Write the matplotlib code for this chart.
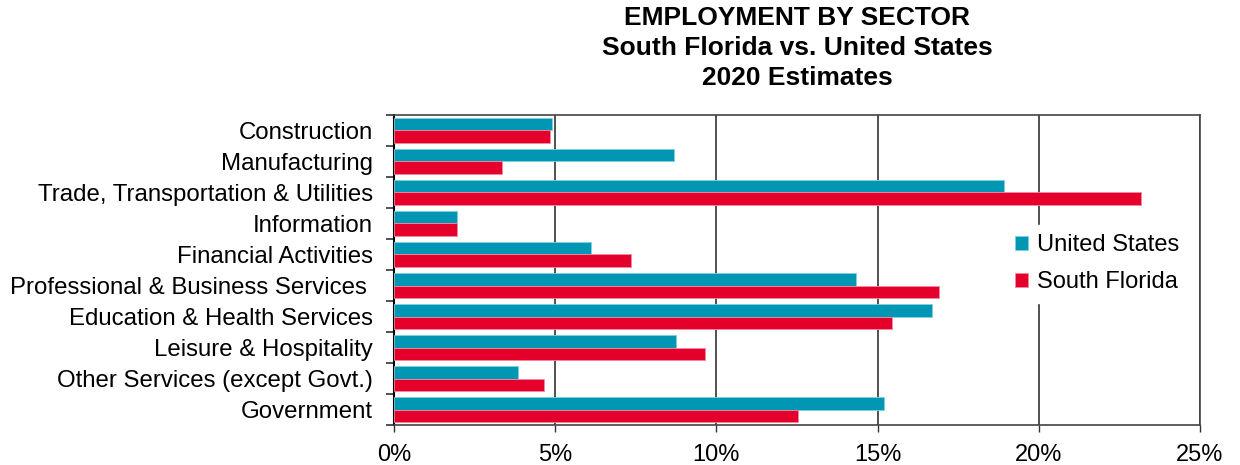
import matplotlib
matplotlib.use("Agg")
import matplotlib.pyplot as plt
import numpy as np

plt.rcParams['font.family'] = ['Liberation Sans', 'DejaVu Sans']

categories = ["Construction", "Manufacturing", "Trade, Transportation & Utilities",
              "Information", "Financial Activities", "Professional & Business Services ",
              "Education & Health Services", "Leisure & Hospitality",
              "Other Services (except Govt.)", "Government"]
us_values = [4.89, 8.70, 18.91, 1.95, 6.12, 14.32, 16.68, 8.74, 3.85, 15.19]
sf_values = [4.85, 3.36, 23.17, 1.95, 7.36, 16.91, 15.44, 9.65, 4.64, 12.54]
x_ticks = [0, 5, 10, 15, 20, 25]
x_tick_labels = ["0%", "5%", "10%", "15%", "20%", "25%"]
title_lines = ["EMPLOYMENT BY SECTOR", "South Florida vs. United States", "2020 Estimates"]

us_color = "#0096B4"
sf_color = "#E4002B"

fig = plt.figure(figsize=(12.4, 4.65), dpi=100)
ax = fig.add_axes([394/1240, 1 - 425/465, (1200-394)/1240, (425-115)/465])

n = len(categories)
pos = np.arange(n)
h = 0.41
ax.barh(pos - h/2, us_values, height=h, color=us_color, edgecolor="#7fd0e0", linewidth=0.6,
        label="United States", zorder=3)
ax.barh(pos + h/2, sf_values, height=h, color=sf_color, edgecolor="#f08aa0", linewidth=0.6,
        label="South Florida", zorder=3)

ax.set_ylim(n - 0.5, -0.5)
ax.set_xlim(0, 25)
ax.set_yticks(pos)
ax.set_yticklabels(categories, fontsize=17.3)
ax.tick_params(axis='y', which='major', length=0, pad=15)
ax.set_yticks(np.arange(-0.5, n, 1), minor=True)
ax.tick_params(axis='y', which='minor', length=6, width=1.2, direction='out', color='#333333')

ax.set_xticks(x_ticks)
ax.set_xticklabels(x_tick_labels, fontsize=17)
ax.tick_params(axis='x', length=5, width=1, color='#333333', pad=9)

ax.grid(axis='x', color='#333333', linewidth=1.2, zorder=0)
ax.set_axisbelow(True)
for s in ['top', 'right', 'bottom']:
    ax.spines[s].set_color('#444444')
    ax.spines[s].set_linewidth(1.2)
ax.spines['left'].set_color('black')
ax.spines['left'].set_linewidth(1.5)

for i, line in enumerate(title_lines):
    fig.text(797/1240, 1 - (18 + 30*i)/465, line, ha='center', va='center', fontsize=19,
             fontweight='bold')

leg = ax.legend(loc='center left', bbox_to_anchor=(0.744, 0.52), frameon=True, fontsize=17,
                handlelength=0.55, handleheight=0.55, handletextpad=0.4, labelspacing=0.65,
                borderpad=0.4)
leg.get_frame().set_facecolor('white')
leg.get_frame().set_edgecolor('white')
leg.get_frame().set_alpha(1)

fig.savefig("out.png", dpi=100)
